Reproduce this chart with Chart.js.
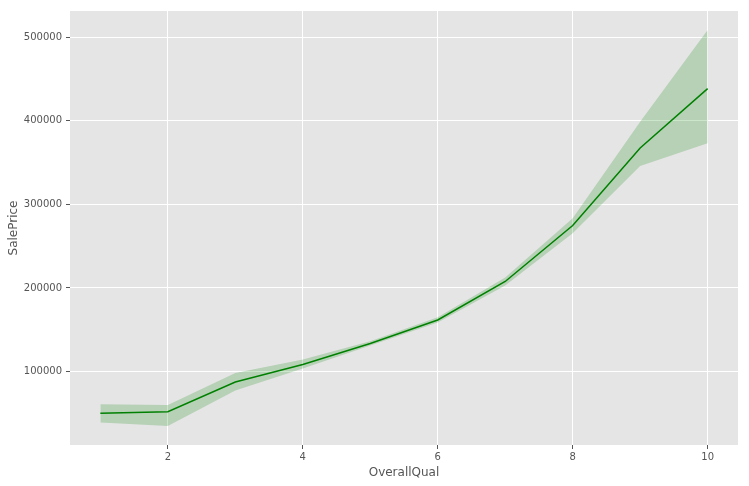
<!DOCTYPE html>
<html>
<head>
<meta charset="utf-8">
<script src="https://cdn.jsdelivr.net/npm/chart.js@4"></script>
<style>
  html, body { margin: 0; padding: 0; background: #ffffff; }
  #wrap { width: 749px; height: 486px; }
</style>
</head>
<body>
<div id="wrap"><canvas id="chart" width="749" height="486"></canvas></div>
<script>
// values
const quality = [1, 2, 3, 4, 5, 6, 7, 8, 9, 10];
const meanPrice = [50150, 51770, 87470, 108420, 133520, 161600, 207720, 274740, 367510, 438590];
const ciLower = [38800, 34800, 77200, 103600, 131000, 158500, 203000, 265500, 346000, 373300];
const ciUpper = [60800, 60000, 98300, 114400, 136300, 165000, 212500, 283500, 399000, 508700];
const xTicks = [2, 4, 6, 8, 10];
const yTicks = [100000, 200000, 300000, 400000, 500000];

const toPoints = vals => quality.map((q, i) => ({ x: q, y: vals[i] }));

// grey panel behind the plot, ggplot style
const panelBg = {
  id: "panelBg",
  beforeDraw(chart) {
    const a = chart.chartArea;
    const ctx = chart.ctx;
    ctx.save();
    ctx.fillStyle = "#e5e5e5";
    ctx.fillRect(a.left, a.top, a.right - a.left, a.bottom - a.top);
    ctx.restore();
  }
};

const tickFont = { family: "DejaVu Sans", size: 10 };
const titleFont = { family: "DejaVu Sans", size: 12 };

new Chart(document.getElementById("chart").getContext("2d"), {
  type: "line",
  data: {
    datasets: [
      {
        data: toPoints(ciLower),
        borderWidth: 0,
        pointRadius: 0,
        fill: false
      },
      {
        data: toPoints(ciUpper),
        borderWidth: 0,
        pointRadius: 0,
        backgroundColor: "rgba(0, 128, 0, 0.2)",
        fill: "-1"
      },
      {
        data: toPoints(meanPrice),
        borderColor: "#008000",
        borderWidth: 1.5,
        pointRadius: 0,
        fill: false
      }
    ]
  },
  options: {
    responsive: false,
    animation: false,
    layout: { padding: { top: 11, right: 11, left: 0, bottom: 0 } },
    plugins: {
      legend: { display: false },
      tooltip: { enabled: false }
    },
    scales: {
      x: {
        type: "linear",
        min: 0.55,
        max: 10.45,
        afterBuildTicks: s => { s.ticks = xTicks.map(v => ({ value: v })); },
        afterFit: s => { s.height = 41; },
        grid: { color: "#ffffff", lineWidth: 1, tickColor: "#555555", tickLength: 4 },
        border: { display: false },
        ticks: { font: tickFont, color: "#555555", padding: 2, maxRotation: 0 },
        title: { display: true, text: "OverallQual", font: titleFont, color: "#555555", padding: { top: 1, bottom: 6 } }
      },
      y: {
        min: 12000,
        max: 531500,
        afterBuildTicks: s => { s.ticks = yTicks.map(v => ({ value: v })); },
        afterFit: s => { s.width = 70; },
        grid: { color: "#ffffff", lineWidth: 1, tickColor: "#555555", tickLength: 4 },
        border: { display: false },
        ticks: { font: tickFont, color: "#555555", padding: 4, callback: v => String(v) },
        title: { display: true, text: "SalePrice", font: titleFont, color: "#555555", padding: { top: 7, bottom: 0 } }
      }
    }
  },
  plugins: [panelBg]
});
</script>
</body>
</html>
